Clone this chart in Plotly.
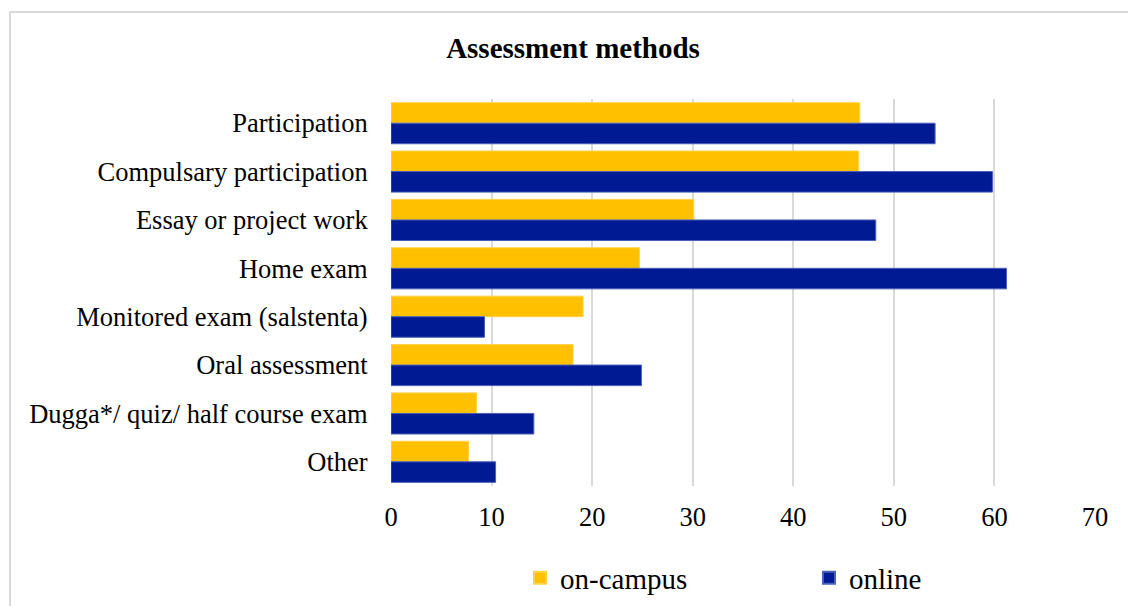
import plotly.graph_objects as go

categories = ["Participation", "Compulsary participation", "Essay or project work",
              "Home exam", "Monitored exam (salstenta)", "Oral assessment",
              "Dugga*/ quiz/ half course exam", "Other"]
on_campus = [46.6, 46.5, 30.1, 24.7, 19.1, 18.1, 8.5, 7.7]
online = [54.1, 59.8, 48.2, 61.2, 9.3, 24.9, 14.2, 10.4]
x_ticks = [0, 10, 20, 30, 40, 50, 60, 70]

FONT = "Liberation Serif, Times New Roman, serif"

fig = go.Figure()
fig.add_trace(go.Bar(y=categories, x=on_campus, orientation="h", name="on-campus",
                     marker=dict(color="#FFC000", line=dict(color="#FFD24D", width=1))))
fig.add_trace(go.Bar(y=categories, x=online, orientation="h", name="online",
                     marker=dict(color="#001A94", line=dict(color="#4A5FB8", width=1))))

L, R, T, B = 391, 1095, 99, 486
W, H = 1128, 606

fig.update_layout(
    width=W, height=H,
    margin=dict(l=L, r=W - R, t=T, b=H - B, pad=0, autoexpand=False),
    paper_bgcolor="white", plot_bgcolor="white",
    barmode="group", bargap=0.15, bargroupgap=0.0,
    font=dict(family=FONT, size=26, color="black"),
    title=dict(text="<b>Assessment methods</b>", x=573 / W, xref="container", xanchor="center",
               y=1 - 48 / H, yanchor="middle", yref="container",
               font=dict(family=FONT, size=29, color="black")),
    showlegend=True,
    legend=dict(orientation="h", x=(520 - L) / (R - L), xanchor="left",
                y=-(578 - B) / (B - T), yanchor="middle",
                entrywidth=244, entrywidthmode="pixels",
                font=dict(family=FONT, size=29, color="black"),
                traceorder="normal", itemsizing="constant"),
    xaxis=dict(range=[0, 70], tickvals=x_ticks, showgrid=True, gridcolor="#D9D9D9",
               gridwidth=2, zeroline=False, showline=False,
               ticks="outside", ticklen=7, tickcolor="rgba(0,0,0,0)",
               tickfont=dict(family=FONT, size=26.5, color="black"), fixedrange=True),
    yaxis=dict(autorange="reversed", showgrid=False, zeroline=False, showline=False,
               ticks="outside", ticklen=17, tickcolor="rgba(0,0,0,0)",
               tickfont=dict(family=FONT, size=26.5, color="black"), fixedrange=True),
    shapes=[dict(type="rect", xref="paper", yref="paper",
                 x0=(10 - L) / (R - L), x1=(W + 20 - L) / (R - L),
                 y0=-(H + 20 - B) / (B - T), y1=1 + (T - 12) / (B - T),
                 line=dict(color="#D9D9D9", width=2), fillcolor="rgba(0,0,0,0)", layer="below")],
)

fig.write_html("out.html", config={"displayModeBar": False},
               post_script="document.body.style.margin='0';document.body.style.overflow='hidden';")
